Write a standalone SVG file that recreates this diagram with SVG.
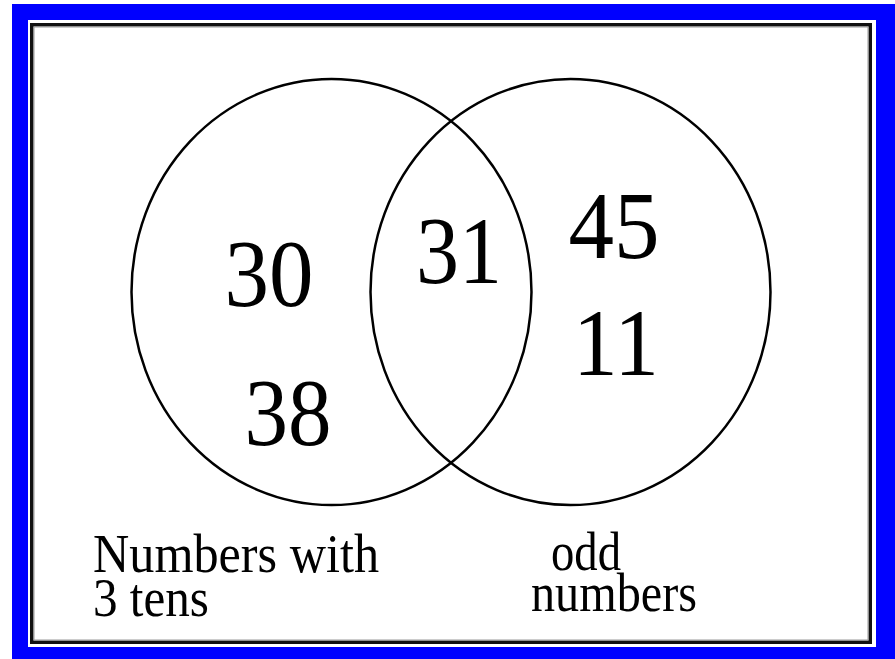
<svg xmlns="http://www.w3.org/2000/svg" width="895" height="659" viewBox="0 0 895 659">
<style>
.num{font-family:"Liberation Serif","Times New Roman",serif;font-size:95px;fill:#000}
.lbl{font-family:"Liberation Serif","Times New Roman",serif;font-size:55px;fill:#000}
.set{fill:none;stroke:#000;stroke-width:2.5}
</style>
<rect x="0" y="0" width="895" height="659" fill="#fff"/>
<g id="frame">
<rect x="12" y="4" width="883" height="655" fill="#0000ff"/>
<rect x="28" y="20" width="848" height="627" fill="#fff"/>
<rect x="31.75" y="24.75" width="838.5" height="617.5" fill="none" stroke="#111" stroke-width="3.5"/>
<rect x="34" y="27" width="834" height="613" fill="none" stroke="#999" stroke-width="1"/>
</g>
<g id="set-tens">
<ellipse class="set" cx="331.5" cy="292" rx="200" ry="213"/>
</g>
<g id="set-odd">
<ellipse class="set" cx="570.5" cy="292" rx="200" ry="213"/>
</g>
<g id="numbers">
<text class="num" x="269" y="306" text-anchor="middle" textLength="89" lengthAdjust="spacingAndGlyphs">30</text>
<text class="num" x="288" y="445" text-anchor="middle" textLength="87" lengthAdjust="spacingAndGlyphs">38</text>
<text class="num" x="459" y="283" text-anchor="middle" textLength="86" lengthAdjust="spacingAndGlyphs">31</text>
<text class="num" x="614" y="258" text-anchor="middle" textLength="91" lengthAdjust="spacingAndGlyphs">45</text>
<text class="num" x="616" y="375" text-anchor="middle" textLength="86" lengthAdjust="spacingAndGlyphs">11</text>
</g>
<g id="labels">
<text class="lbl" x="93" y="572" textLength="286" lengthAdjust="spacingAndGlyphs">Numbers with</text>
<text class="lbl" x="93" y="616" textLength="116" lengthAdjust="spacingAndGlyphs">3 tens</text>
<text class="lbl" x="551" y="570" textLength="70" lengthAdjust="spacingAndGlyphs">odd</text>
<text class="lbl" x="531" y="611" textLength="166" lengthAdjust="spacingAndGlyphs">numbers</text>
</g>
</svg>
